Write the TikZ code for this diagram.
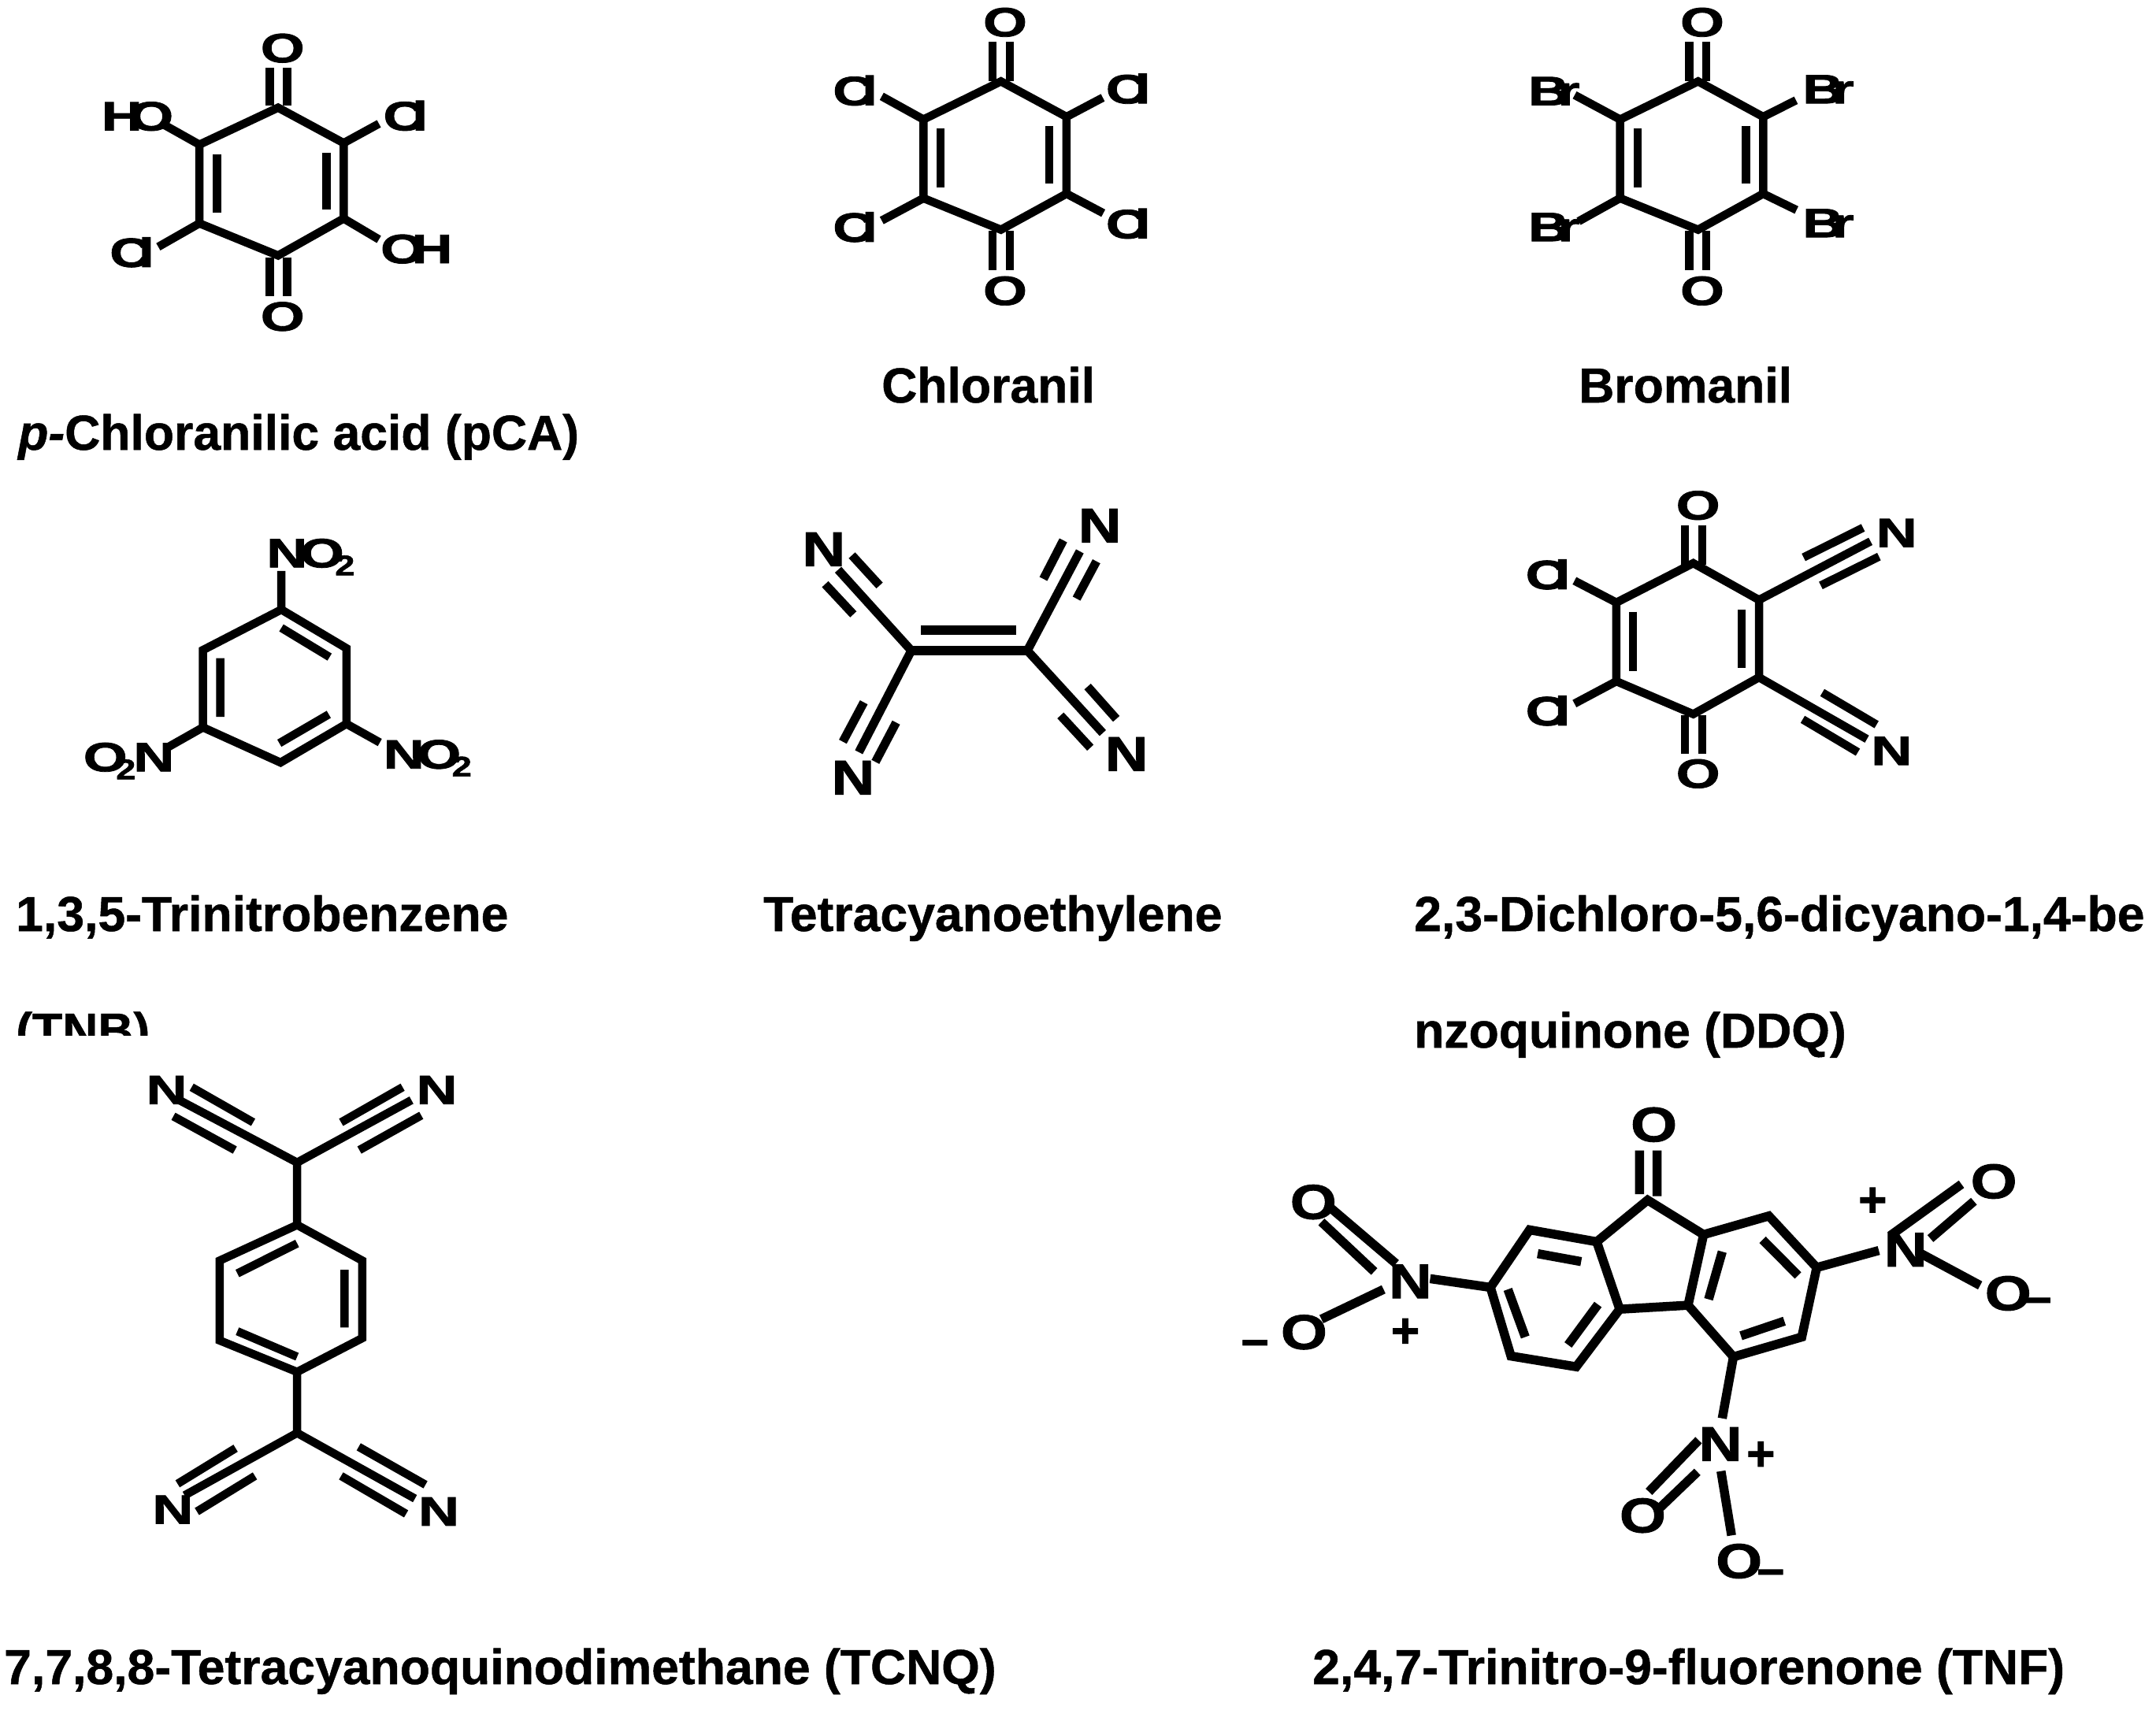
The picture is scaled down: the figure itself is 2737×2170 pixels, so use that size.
\documentclass[tikz,border=0pt]{standalone}
\usepackage{fontspec}
\setmainfont{Liberation Sans}[BoldFeatures={FakeBold=0.8},BoldItalicFeatures={FakeBold=0.8}]
\newfontfamily\atomfont{Liberation Sans Bold}[FakeBold=1.5]
\newcommand\wideat[1]{\scalebox{1.38}[1]{#1}}
\newcommand\bigat[1]{\scalebox{1.22}[1]{#1}}
\newcommand\ClAt{\wideat{C\kern-.21em l}}
\newcommand\BrAt{\wideat{B\kern-.2em r}}
\newcommand\subtwo{{\fontsize{36}{36}\selectfont\scalebox{1.25}[1]{2}}}
\tikzset{
 bond/.style={line width=10.5pt,line cap=butt,line join=miter},
 atom/.style={inner sep=0pt,font=\atomfont\fontsize{52}{52}\selectfont},
 bigatom/.style={inner sep=0pt,font=\atomfont\fontsize{62}{62}\selectfont},
 caption/.style={inner sep=0pt,anchor=base west,font=\bfseries\fontsize{62.5}{62.5}\selectfont},
}
\begin{document}
\begin{tikzpicture}[x=1pt,y=-1pt]
\useasboundingbox (0,0) rectangle (2737,2170);
\fill[white] (0,0) rectangle (2737,2170);

% pCA
\begin{scope}[shift={(0,0)},xscale=0.574,yscale=0.408,name prefix=pca-]
\path (615,335) coordinate (t) (760,445) coordinate (ur) (760,680) coordinate (lr) (615,795) coordinate (b) (441,695) coordinate (ll) (441,450) coordinate (ul);
\path (480,480) coordinate (i1a) (480,662) coordinate (i1b) (722,475) coordinate (i2a) (722,653) coordinate (i2b);
\path (597,212) coordinate (c1a) (597,328) coordinate (c1b) (635,212) coordinate (c2a) (635,328) coordinate (c2b);
\path (597,802) coordinate (c3a) (597,922) coordinate (c3b) (635,802) coordinate (c4a) (635,922) coordinate (c4b);
\path (365,390) coordinate (s1) (838,385) coordinate (s2) (350,768) coordinate (s3) (838,745) coordinate (s4);
\draw[bond] (t)--(ur)--(lr)--(b)--(ll)--(ul)--cycle;
\draw[bond] (i1a)--(i1b) (i2a)--(i2b) (c1a)--(c1b) (c2a)--(c2b) (c3a)--(c3b) (c4a)--(c4b);
\draw[bond] (ul)--(s1) (ur)--(s2) (ll)--(s3) (lr)--(s4);
\node[atom] (o1) at (625,150) {\wideat{O}};
\node[atom] (o2) at (625,985) {\wideat{O}};
\node[atom] (ho) at (304,362) {\wideat{H\kern-.23em O}};
\node[atom] (cl1) at (897,360) {\ClAt};
\node[atom] (cl2) at (292,785) {\ClAt};
\node[atom] (oh) at (921,775) {\wideat{O\kern-.23em H}};
\end{scope}

% Chloranil
\begin{scope}[shift={(1030,0)},scale=0.3333,name prefix=cl-]
\path (722,310) coordinate (t) (972,445) coordinate (ur) (972,738) coordinate (lr) (722,875) coordinate (b) (427,755) coordinate (ll) (427,455) coordinate (ul);
\path (492,490) coordinate (i1a) (492,713) coordinate (i1b) (906,480) coordinate (i2a) (906,700) coordinate (i2b);
\path (690,160) coordinate (c1a) (690,310) coordinate (c1b) (756,160) coordinate (c2a) (756,310) coordinate (c2b);
\path (690,880) coordinate (c3a) (690,1030) coordinate (c3b) (756,880) coordinate (c4a) (756,1030) coordinate (c4b);
\path (268,367) coordinate (s1) (1110,372) coordinate (s2) (268,840) coordinate (s3) (1112,812) coordinate (s4);
\draw[bond] (t)--(ur)--(lr)--(b)--(ll)--(ul)--cycle;
\draw[bond] (i1a)--(i1b) (i2a)--(i2b) (c1a)--(c1b) (c2a)--(c2b) (c3a)--(c3b) (c4a)--(c4b);
\draw[bond] (ul)--(s1) (ur)--(s2) (ll)--(s3) (lr)--(s4);
\node[atom] (o1) at (738,85) {\wideat{O}};
\node[atom] (o2) at (738,1108) {\wideat{O}};
\node[atom] (cl1) at (167,345) {\ClAt};
\node[atom] (cl2) at (1207,338) {\ClAt};
\node[atom] (cl3) at (167,865) {\ClAt};
\node[atom] (cl4) at (1207,852) {\ClAt};
\end{scope}

% Bromanil
\begin{scope}[shift={(1930,0)},scale=0.3333,name prefix=br-]
\path (677,310) coordinate (t) (925,445) coordinate (ur) (925,738) coordinate (lr) (677,875) coordinate (b) (380,755) coordinate (ll) (380,455) coordinate (ul);
\path (447,490) coordinate (i1a) (447,713) coordinate (i1b) (860,480) coordinate (i2a) (860,700) coordinate (i2b);
\path (644,160) coordinate (c1a) (644,310) coordinate (c1b) (708,160) coordinate (c2a) (708,310) coordinate (c2b);
\path (644,880) coordinate (c3a) (644,1030) coordinate (c3b) (708,880) coordinate (c4a) (708,1030) coordinate (c4b);
\path (207,362) coordinate (s1) (1050,382) coordinate (s2) (222,843) coordinate (s3) (1052,800) coordinate (s4);
\draw[bond] (t)--(ur)--(lr)--(b)--(ll)--(ul)--cycle;
\draw[bond] (i1a)--(i1b) (i2a)--(i2b) (c1a)--(c1b) (c2a)--(c2b) (c3a)--(c3b) (c4a)--(c4b);
\draw[bond] (ul)--(s1) (ur)--(s2) (ll)--(s3) (lr)--(s4);
\node[atom] (o1) at (693,85) {\wideat{O}};
\node[atom] (o2) at (693,1108) {\wideat{O}};
\node[atom] (br1) at (128,347) {\BrAt};
\node[atom] (br2) at (1173,340) {\BrAt};
\node[atom] (br3) at (128,865) {\BrAt};
\node[atom] (br4) at (1173,850) {\BrAt};
\end{scope}

% TNB
\begin{scope}[shift={(0,640)},xscale=0.5102,yscale=0.4464,name prefix=tnb-]
\path (700,300) coordinate (t) (862,410) coordinate (ur) (862,625) coordinate (lr) (698,735) coordinate (b) (505,635) coordinate (ll) (505,415) coordinate (ul);
\path (700,352) coordinate (i1a) (820,435) coordinate (i1b) (695,680) coordinate (i2a) (818,598) coordinate (i2b) (548,438) coordinate (i3a) (548,605) coordinate (i3b);
\path (700,190) coordinate (s1) (945,678) coordinate (s2) (420,690) coordinate (s3);
\draw[bond] (t)--(ur)--(lr)--(b)--(ll)--(ul)--cycle;
\draw[bond] (i1a)--(i1b) (i2a)--(i2b) (i3a)--(i3b);
\draw[bond] (t)--(s1) (lr)--(s2) (ll)--(s3);
\node[atom,anchor=base west] (n1) at (663,180) {\wideat{N\kern-.13em O\kern-.16em}\raisebox{-10pt}{\subtwo}};
\node[atom,anchor=base west] (n2) at (954,752) {\wideat{N\kern-.13em O\kern-.16em}\raisebox{-10pt}{\subtwo}};
\node[atom,anchor=base west] (n3) at (207,760) {\wideat{O\kern-.2em}\raisebox{-10pt}{\subtwo}\kern-3pt\wideat{N}};
\end{scope}

% TCNE
\begin{scope}[shift={(950,620)},xscale=0.3507,yscale=0.3333,name prefix=tcne-]
\path (590,618) coordinate (l) (1010,618) coordinate (r) (625,540) coordinate (d1) (968,540) coordinate (d2);
\path (325,310) coordinate (a0) (375,255) coordinate (a1) (475,370) coordinate (a2) (278,365) coordinate (a3) (380,480) coordinate (a4);
\path (1200,240) coordinate (b0) (1140,198) coordinate (b1) (1068,345) coordinate (b2) (1260,278) coordinate (b3) (1188,420) coordinate (b4);
\path (400,1005) coordinate (c0) (418,815) coordinate (c1) (342,965) coordinate (c2) (535,892) coordinate (c3) (460,1042) coordinate (c4);
\path (1283,932) coordinate (e0) (1228,755) coordinate (e1) (1332,878) coordinate (e2) (1130,865) coordinate (e3) (1238,988) coordinate (e4);
\draw[bond,line width=12pt] (l)--(r) (d1)--(d2);
\draw[bond,line width=11pt] (l)--(a0) (a1)--(a2) (a3)--(a4) (r)--(b0) (b1)--(b2) (b3)--(b4) (l)--(c0) (c1)--(c2) (c3)--(c4) (r)--(e0) (e1)--(e2) (e3)--(e4);
\node[bigatom] (n1) at (273,232) {\bigat{N}};
\node[bigatom] (n2) at (1272,142) {\bigat{N}};
\node[bigatom] (n3) at (379,1102) {\bigat{N}};
\node[bigatom] (n4) at (1369,1012) {\bigat{N}};
\end{scope}

% DDQ
\begin{scope}[shift={(1900,600)},xscale=0.3827,yscale=0.3333,name prefix=ddq-]
\path (652,345) coordinate (t) (870,485) coordinate (ur) (870,780) coordinate (lr) (652,920) coordinate (b) (397,795) coordinate (ll) (397,495) coordinate (ul);
\path (452,530) coordinate (i1a) (452,755) coordinate (i1b) (813,522) coordinate (i2a) (813,743) coordinate (i2b);
\path (625,200) coordinate (c1a) (625,350) coordinate (c1b) (682,200) coordinate (c2a) (682,350) coordinate (c2b);
\path (625,925) coordinate (c3a) (625,1070) coordinate (c3b) (682,925) coordinate (c4a) (682,1070) coordinate (c4b);
\path (258,412) coordinate (s1) (258,880) coordinate (s2);
\path (1240,262) coordinate (a0) (1018,323) coordinate (a1) (1215,210) coordinate (a2) (1075,430) coordinate (a3) (1268,320) coordinate (a4);
\path (1228,1015) coordinate (e0) (1080,838) coordinate (e1) (1260,960) coordinate (e2) (1015,940) coordinate (e3) (1198,1065) coordinate (e4);
\draw[bond] (t)--(ur)--(lr)--(b)--(ll)--(ul)--cycle;
\draw[bond] (i1a)--(i1b) (i2a)--(i2b) (c1a)--(c1b) (c2a)--(c2b) (c3a)--(c3b) (c4a)--(c4b);
\draw[bond] (ul)--(s1) (ll)--(s2) (ur)--(a0) (a1)--(a2) (a3)--(a4) (lr)--(e0) (e1)--(e2) (e3)--(e4);
\node[atom] (o1) at (668,125) {\wideat{O}};
\node[atom] (o2) at (668,1147) {\wideat{O}};
\node[atom] (cl1) at (170,388) {\ClAt};
\node[atom] (cl2) at (170,907) {\ClAt};
\node[atom] (n1) at (1327,230) {\wideat{N}};
\node[atom] (n2) at (1310,1060) {\wideat{N}};
\end{scope}

% TCNQ
\begin{scope}[shift={(0,1250)},xscale=0.4464,yscale=0.5868,name prefix=tcnq-]
\path (845,385) coordinate (top) (845,520) coordinate (t) (1030,597) coordinate (ur) (1030,765) coordinate (lr) (845,838) coordinate (b) (625,770) coordinate (ll) (625,597) coordinate (ul) (845,970) coordinate (bot);
\path (675,625) coordinate (i1a) (845,560) coordinate (i1b) (675,750) coordinate (i2a) (845,805) coordinate (i2b) (980,617) coordinate (i3a) (980,742) coordinate (i3b);
\path (510,250) coordinate (a0) (545,222) coordinate (a1) (720,298) coordinate (a2) (493,285) coordinate (a3) (668,358) coordinate (a4);
\path (1170,250) coordinate (b0) (970,298) coordinate (b1) (1145,222) coordinate (b2) (1022,358) coordinate (b3) (1198,283) coordinate (b4);
\path (525,1105) coordinate (c0) (505,1080) coordinate (c1) (670,1003) coordinate (c2) (560,1140) coordinate (c3) (725,1063) coordinate (c4);
\path (1180,1112) coordinate (e0) (1020,1000) coordinate (e1) (1210,1082) coordinate (e2) (970,1063) coordinate (e3) (1155,1145) coordinate (e4);
\draw[bond] (t)--(ur)--(lr)--(b)--(ll)--(ul)--cycle;
\draw[bond] (i1a)--(i1b) (i2a)--(i2b) (i3a)--(i3b) (top)--(t) (b)--(bot);
\draw[bond] (top)--(a0) (a1)--(a2) (a3)--(a4) (top)--(b0) (b1)--(b2) (b3)--(b4) (bot)--(c0) (c1)--(c2) (c3)--(c4) (bot)--(e0) (e1)--(e2) (e3)--(e4);
\node[atom] (n1) at (474,228) {\wideat{N}};
\node[atom] (n2) at (1242,228) {\wideat{N}};
\node[atom] (n3) at (491,1136) {\wideat{N}};
\node[atom] (n4) at (1248,1140) {\wideat{N}};
\end{scope}

% TNF
\begin{scope}[shift={(1500,1380)},xscale=0.7889,yscale=0.5038,name prefix=tnf-]
\path (560,360) coordinate (A) (668,390) coordinate (B) (705,560) coordinate (C) (635,705) coordinate (D) (530,678) coordinate (E) (497,505) coordinate (F);
\path (750,285) coordinate (G) (840,372) coordinate (H) (815,550) coordinate (I) (945,325) coordinate (J) (1022,455) coordinate (K) (998,630) coordinate (L) (888,680) coordinate (M);
\path (573,420) coordinate (i1a) (643,440) coordinate (i1b) (525,510) coordinate (i2a) (553,630) coordinate (i2b) (622,650) coordinate (i3a) (670,548) coordinate (i3b);
\path (870,415) coordinate (i4a) (848,535) coordinate (i4b) (935,385) coordinate (i5a) (992,475) coordinate (i5b) (900,627) coordinate (i6a) (970,590) coordinate (i6b);
\path (737,160) coordinate (c1a) (737,270) coordinate (c1b) (765,160) coordinate (c2a) (765,275) coordinate (c2b);
\path (400,483) coordinate (l0) (345,445) coordinate (l1) (240,305) coordinate (l2) (310,465) coordinate (l3) (225,340) coordinate (l4) (325,510) coordinate (l5) (225,585) coordinate (l6);
\path (1122,412) coordinate (r0) (1140,375) coordinate (r1) (1255,245) coordinate (r2) (1205,382) coordinate (r3) (1275,288) coordinate (r4) (1190,420) coordinate (r5) (1285,500) coordinate (r6);
\path (870,835) coordinate (d0) (832,890) coordinate (d1) (752,1020) coordinate (d2) (830,970) coordinate (d3) (770,1060) coordinate (d4) (868,968) coordinate (d5) (885,1130) coordinate (d6);
\draw[bond,line width=11.5pt] (A)--(B)--(C)--(D)--(E)--(F)--cycle (B)--(G)--(H)--(I)--(C) (H)--(J)--(K)--(L)--(M)--(I);
\draw[bond,line width=11.5pt] (i1a)--(i1b) (i2a)--(i2b) (i3a)--(i3b) (i4a)--(i4b) (i5a)--(i5b) (i6a)--(i6b) (c1a)--(c1b) (c2a)--(c2b);
\draw[bond,line width=11.5pt] (F)--(l0) (l1)--(l2) (l3)--(l4) (l5)--(l6) (K)--(r0) (r1)--(r2) (r3)--(r4) (r5)--(r6) (M)--(d0) (d1)--(d2) (d3)--(d4) (d5)--(d6);
\node[bigatom] (o0) at (760,95) {\bigat{O}};
\node[bigatom] (n1) at (368,490) {\bigat{N}};
\node[bigatom] (o1) at (212,290) {\bigat{O}};
\node[bigatom] (o2) at (197,618) {\bigat{O}};
\node[bigatom] (m1) at (118,658) {–};
\node[bigatom] (p1) at (360,620) {+};
\node[bigatom] (n2) at (1165,410) {\bigat{N}};
\node[bigatom] (o3) at (1307,238) {\bigat{O}};
\node[bigatom] (o4) at (1330,520) {\bigat{O}};
\node[bigatom] (m2) at (1378,551) {–};
\node[bigatom] (p2) at (1112,290) {+};
\node[bigatom] (n3) at (867,900) {\bigat{N}};
\node[bigatom] (o5) at (742,1080) {\bigat{O}};
\node[bigatom] (o6) at (897,1195) {\bigat{O}};
\node[bigatom] (m3) at (948,1236) {–};
\node[bigatom] (p3) at (932,930) {+};
\end{scope}

% captions
\node[caption] (cap1) at (23,571) {\textit{p-}Chloranilic acid (pCA)};
\node[caption] (cap2) at (1119,511) {Chloranil};
\node[caption] (cap3) at (2004,511) {Bromanil};
\node[caption] (cap4) at (20,1182) {1,3,5-Trinitrobenzene};
\begin{scope}
\clip (0,1270) rectangle (400,1314);
\node[caption] (cap4b) at (20,1330) {(TNB)};
\end{scope}
\node[caption] (cap5) at (969,1182) {Tetracyanoethylene};
\node[caption] (cap6) at (1795,1182) {2,3-Dichloro-5,6-dicyano-1,4-be};
\node[caption] (cap6b) at (1795,1330) {nzoquinone (DDQ)};
\node[caption] (cap7) at (5,2138) {7,7,8,8-Tetracyanoquinodimethane (TCNQ)};
\node[caption] (cap8) at (1666,2138) {2,4,7-Trinitro-9-fluorenone (TNF)};
\end{tikzpicture}
\end{document}
